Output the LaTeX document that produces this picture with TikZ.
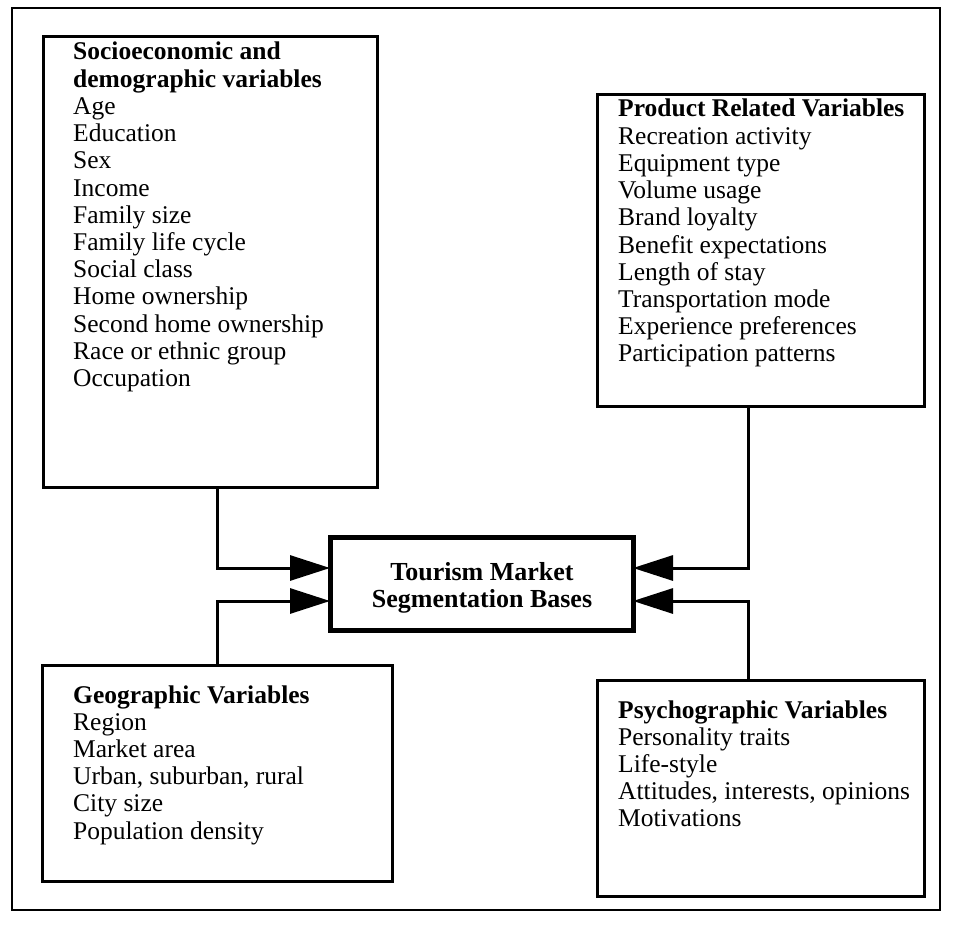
\documentclass[tikz,border=0pt]{standalone}
\usepackage{fontspec}
\setmainfont{Liberation Serif}
\usetikzlibrary{arrows.meta}

\begin{document}
\begin{tikzpicture}[x=1pt,y=-1pt,
  frame/.style={draw=black,line width=2.5pt},
  varbox/.style={draw=black,line width=3pt,anchor=north west,inner sep=0pt,outer sep=0pt},
  hub/.style={draw=black,line width=5pt,anchor=north west,inner sep=0pt,outer sep=0pt},
  line/.style={anchor=base west,inner sep=0pt,font=\fontsize{25.5}{27.2}\selectfont},
  head/.style={line,font=\fontsize{25.5}{27.2}\selectfont\bfseries},
  hubtext/.style={anchor=base,inner sep=0pt,font=\fontsize{26}{27.2}\selectfont\bfseries},
  conn/.style={draw=black,line width=3pt,-{Triangle[length=40pt,width=25pt]}}
]
% page area and outer frame
\path[use as bounding box] (0,0) rectangle (965,936);
\draw[frame] (12,8) rectangle (940,910);

% the five boxes
\node[varbox,minimum width=334pt,minimum height=450pt] (socio) at (43,37) {};
\node[varbox,minimum width=327pt,minimum height=311pt] (prod) at (597,95) {};
\node[hub,minimum width=303pt,minimum height=93pt] (hub) at (330,537) {};
\node[varbox,minimum width=350pt,minimum height=216pt] (geo) at (42,665) {};
\node[varbox,minimum width=327pt,minimum height=216pt] (psy) at (597,680) {};

% socioeconomic list
\node[head] (s0) at (73,60) {Socioeconomic and};
\node[head] (s1) at (73,87.2) {demographic variables};
\foreach \t [count=\i from 2] in {Age,Education,Sex,Income,Family size,Family life cycle,Social class,Home ownership,Second home ownership,Race or ethnic group,Occupation}
  \node[line] (s\i) at (73,60+\i*27.2) {\t};

% product related list
\node[head] (p0) at (618,117) {Product Related Variables};
\foreach \t [count=\i from 1] in {Recreation activity,Equipment type,Volume usage,Brand loyalty,Benefit expectations,Length of stay,Transportation mode,Experience preferences,Participation patterns}
  \node[line] (p\i) at (618,117+\i*27.2) {\t};

% geographic list
\node[head] (g0) at (73,703) {Geographic Variables};
\foreach \t [count=\i from 1] in {Region,Market area,{Urban, suburban, rural},City size,Population density}
  \node[line] (g\i) at (73,703+\i*27.2) {\t};

% psychographic list
\node[head] (y0) at (618,718) {Psychographic Variables};
\foreach \t [count=\i from 1] in {Personality traits,Life-style,{Attitudes, interests, opinions},Motivations}
  \node[line] (y\i) at (618,718+\i*27.2) {\t};

% centre title
\node[hubtext] (h0) at (482,580) {Tourism Market};
\node[hubtext] (h1) at (482,607) {Segmentation Bases};

% connector routing guides
\coordinate (xl) at (217,0);
\coordinate (xr) at (748,0);
\coordinate (ya) at (0,568);
\coordinate (yb) at (0,601);

\draw[conn] (socio.south -| xl) |- (hub.west |- ya);
\draw[conn] (geo.north -| xl) |- (hub.west |- yb);
\draw[conn] (prod.south -| xr) |- (hub.east |- ya);
\draw[conn] (psy.north -| xr) |- (hub.east |- yb);
\end{tikzpicture}
\end{document}
